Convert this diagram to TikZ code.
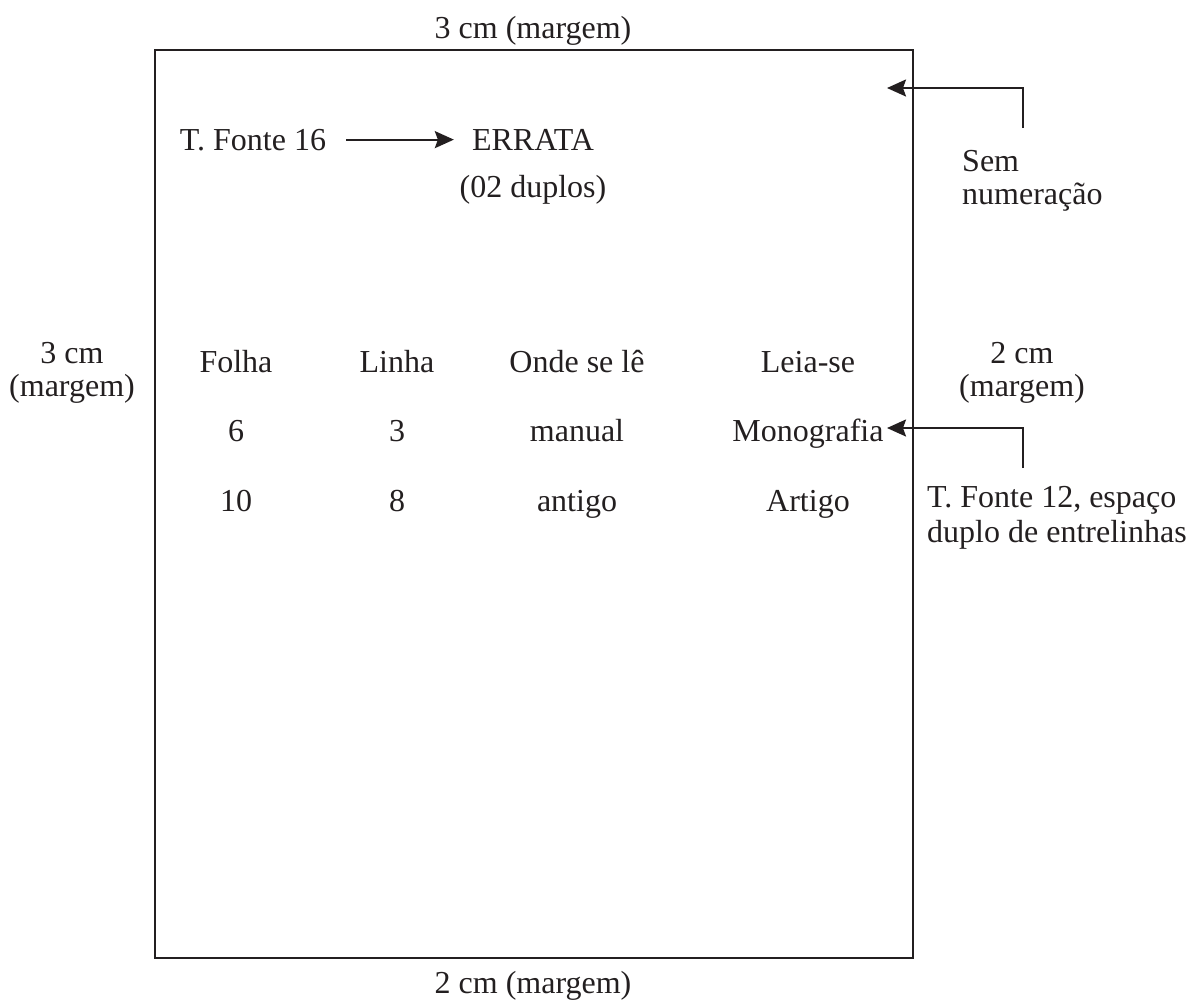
\documentclass[tikz,border=0pt]{standalone}
\usepackage{fontspec}
\setmainfont{Liberation Serif}
\usetikzlibrary{arrows.meta}
\definecolor{ink}{HTML}{231F20}
\begin{document}
\begin{tikzpicture}[x=1pt,y=-1pt,
  txt/.style={inner sep=0pt, font=\fontsize{32}{33}\selectfont, text=ink},
  ml/.style={txt, align=center},
  mll/.style={txt, align=left},
  conn/.style={line width=2pt, draw=ink, -{Stealth[length=19pt,width=17pt,inset=3pt]}},
  page/.style={line width=2.2pt, draw=ink}]
\useasboundingbox (0,0) rectangle (1188,1005);
\draw[page] (155,50) rectangle (913,958);
\node[txt, anchor=base] (top) at (533,38) {3 cm (margem)};
\node[txt, anchor=base] (bot) at (533,993) {2 cm (margem)};
\node[ml, anchor=center] (left) at (72,373) {3 cm\\(margem)};
\node[ml, anchor=center] (right) at (1022,373) {2 cm\\(margem)};
\node[txt, anchor=base] (tf16) at (253,150) {T. Fonte 16};
\node[txt, anchor=base] (errata) at (533,150) {ERRATA};
\node[txt, anchor=base] (duplos) at (533,197) {(02 duplos)};
\node[mll, anchor=north west] (sem) at (962,150) {Sem\\numeração};
\node[mll, anchor=north west, font=\fontsize{32}{35}\selectfont] (tf12) at (927,486) {T. Fonte 12, espaço\\duplo de entrelinhas};
% table
\node[txt, anchor=base] (h1) at (236,372) {Folha};
\node[txt, anchor=base] (h2) at (397,372) {Linha};
\node[txt, anchor=base] (h3) at (577,372) {Onde se lê};
\node[txt, anchor=base] (h4) at (808,372) {Leia-se};
\node[txt, anchor=base] (a1) at (236,441) {6};
\node[txt, anchor=base] (a2) at (397,441) {3};
\node[txt, anchor=base] (a3) at (577,441) {manual};
\node[txt, anchor=base] (a4) at (808,441) {Monografia};
\node[txt, anchor=base] (b1) at (236,511) {10};
\node[txt, anchor=base] (b2) at (397,511) {8};
\node[txt, anchor=base] (b3) at (577,511) {antigo};
\node[txt, anchor=base] (b4) at (808,511) {Artigo};
% connectors
\coordinate (s1) at (1023,128);
\coordinate (t1) at (887,88);
\draw[conn] (s1) |- (t1);
\coordinate (s2) at (1023,468);
\coordinate (t2) at (887,428);
\draw[conn] (s2) |- (t2);
\draw[conn, shorten <=20pt, shorten >=18pt] (tf16.east) -- (tf16.east -| errata.west);
\end{tikzpicture}
\end{document}
